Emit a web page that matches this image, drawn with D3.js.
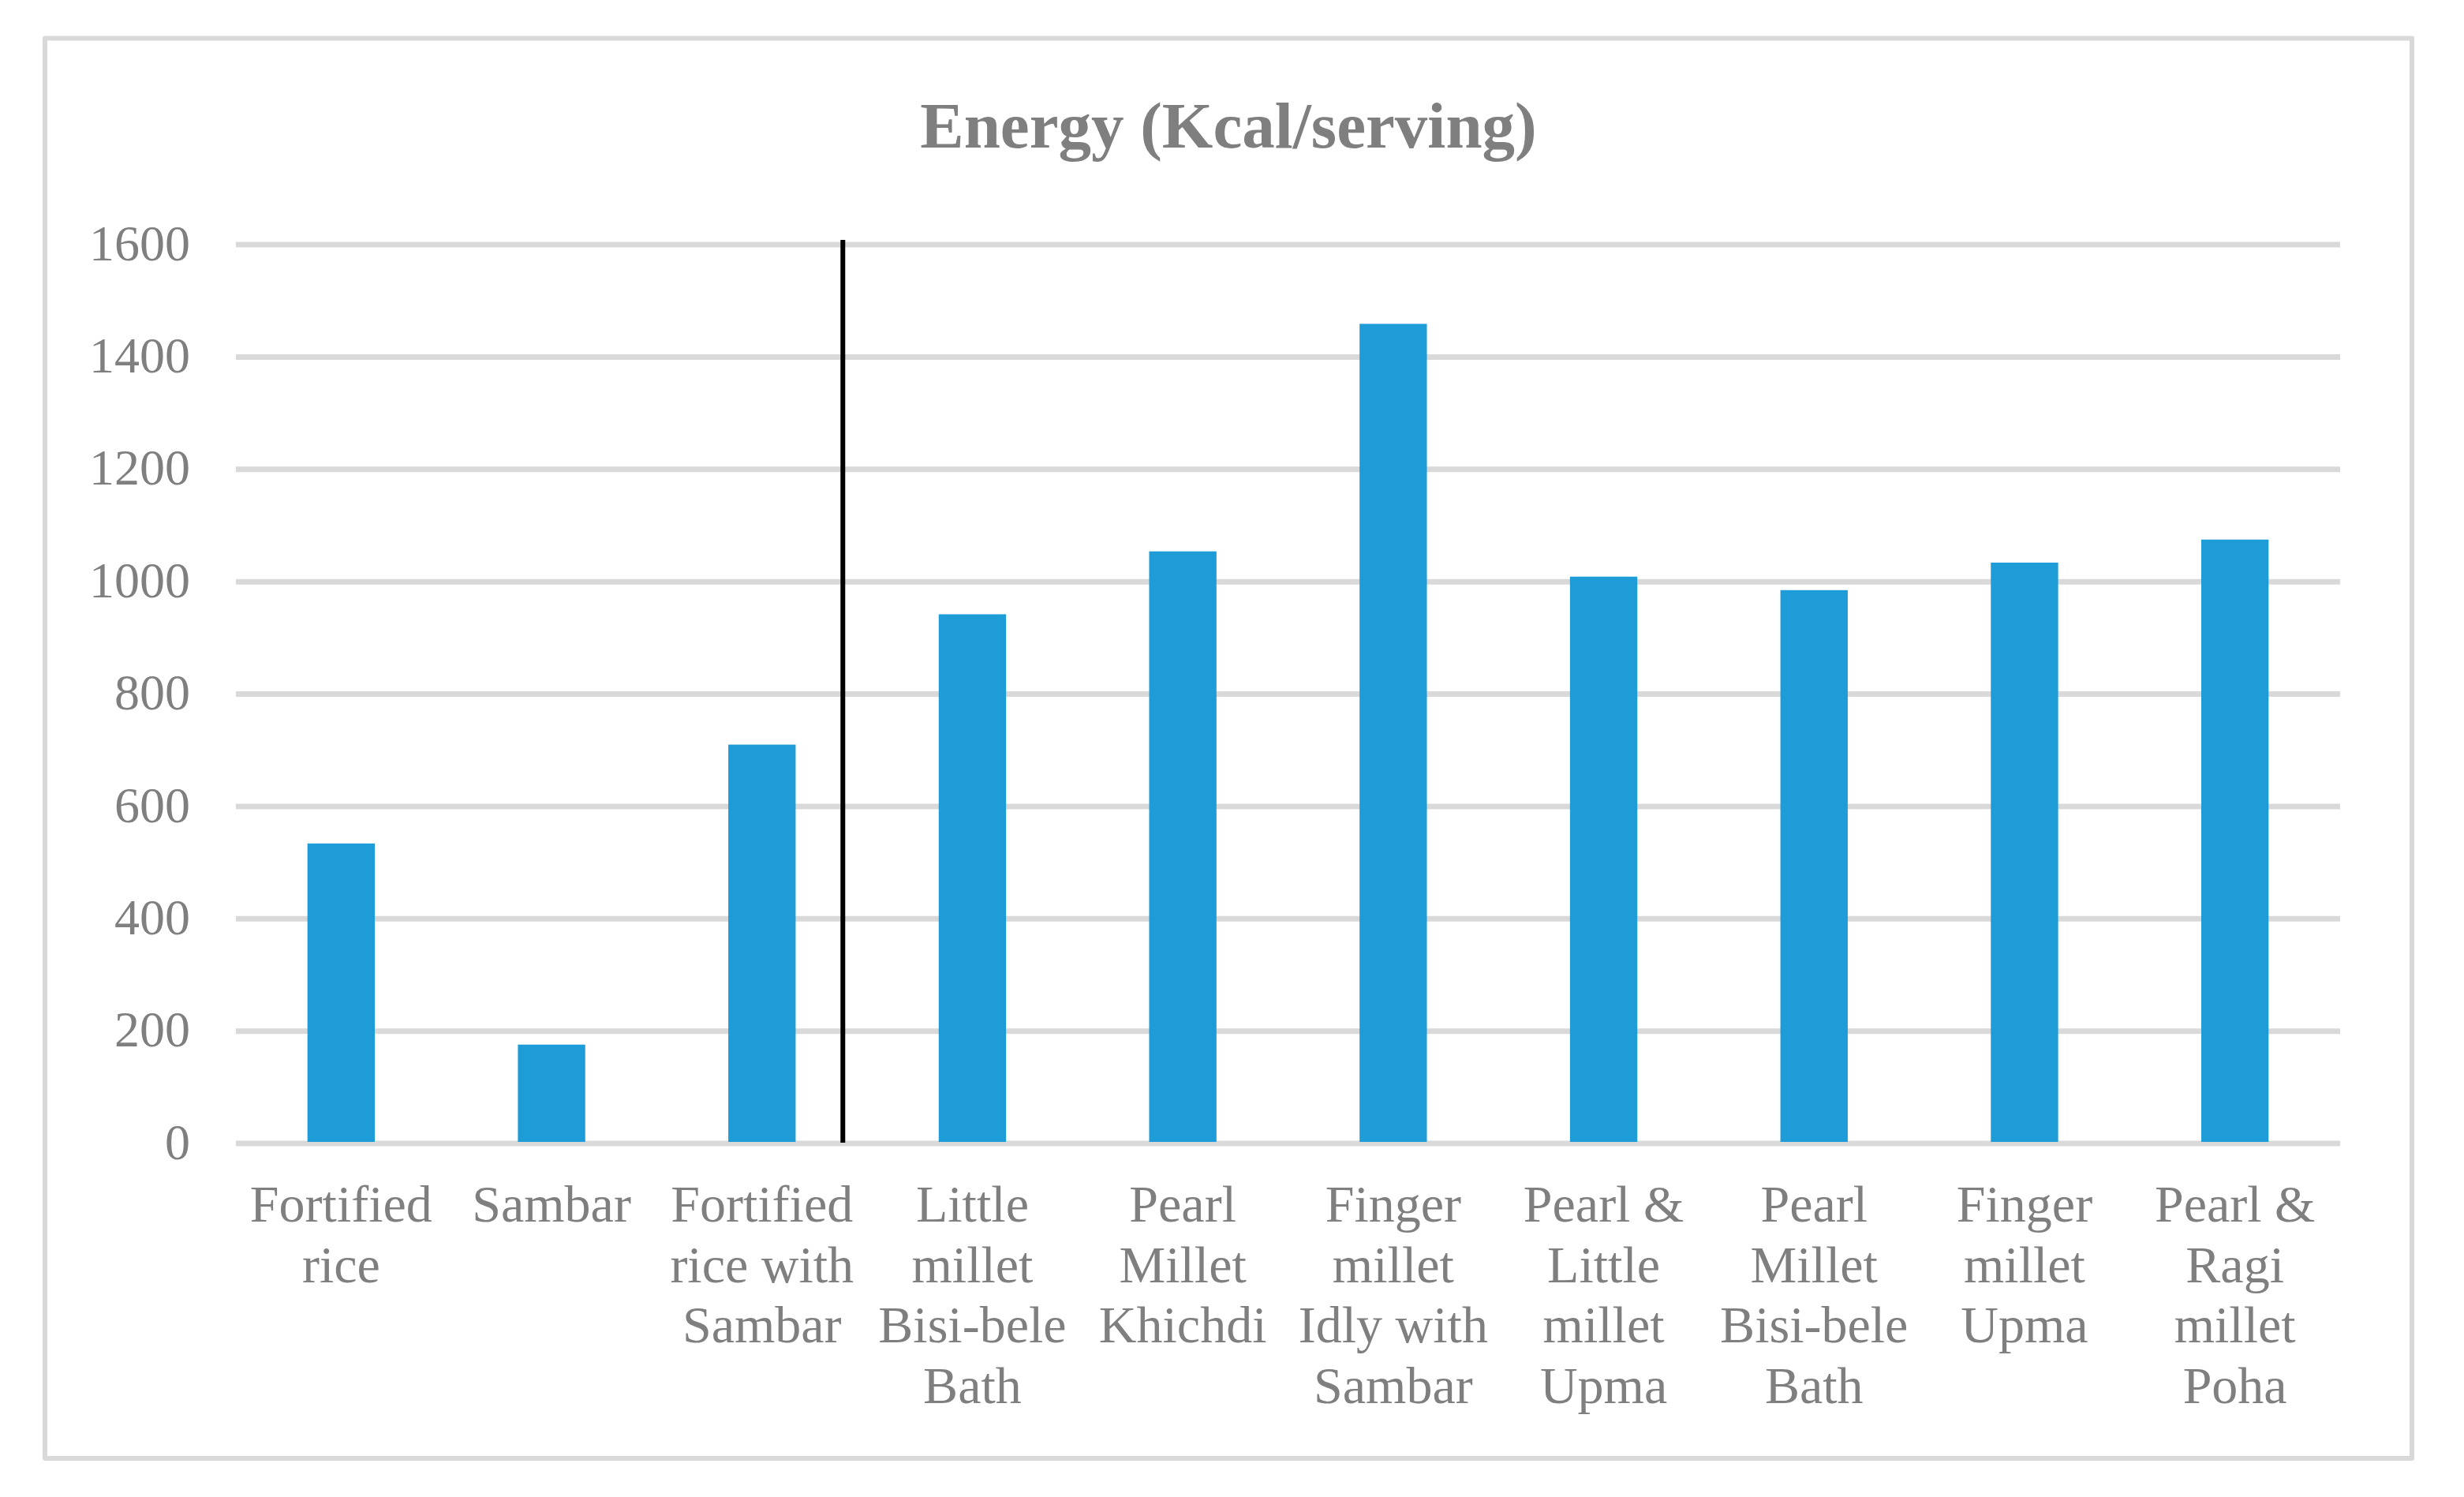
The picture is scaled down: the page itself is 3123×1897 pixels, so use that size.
<!DOCTYPE html>
<html>
<head>
<meta charset="utf-8">
<script src="https://cdn.jsdelivr.net/npm/d3@7"></script>
<style>
  html, body { margin: 0; padding: 0; background: #ffffff; }
  svg { display: block; }
  text { font-family: "Liberation Serif", "Times New Roman", serif; }
</style>
</head>
<body>
<script>
// ---- Data ----
const categories = [
  "Fortified rice",
  "Sambar",
  "Fortified rice with Sambar",
  "Little millet Bisi-bele Bath",
  "Pearl Millet Khichdi",
  "Finger millet Idly with Sambar",
  "Pearl & Little millet Upma",
  "Pearl Millet Bisi-bele Bath",
  "Finger millet Upma",
  "Pearl & Ragi millet Poha"
];
const tickLabelLines = [
  ["Fortified", "rice"],
  ["Sambar"],
  ["Fortified", "rice with", "Sambar"],
  ["Little", "millet", "Bisi-bele", "Bath"],
  ["Pearl", "Millet", "Khichdi"],
  ["Finger", "millet", "Idly with", "Sambar"],
  ["Pearl &", "Little", "millet", "Upma"],
  ["Pearl", "Millet", "Bisi-bele", "Bath"],
  ["Finger", "millet", "Upma"],
  ["Pearl &", "Ragi", "millet", "Poha"]
];
const energy = [534, 176, 710, 942, 1054, 1459, 1009, 985, 1034, 1075];
const yTicks = [0, 200, 400, 600, 800, 1000, 1200, 1400, 1600];
const title = "Energy (Kcal/serving)";
const separatorAfterIndex = 2; // divider between rice dishes and millet dishes

// ---- Layout ----
const W = 3123, H = 1897;
const plot = { left: 299, right: 2966, top: 310, bottom: 1449 };
const grey = "#7f7f7f";
const gridColor = "#d9d9d9";
const barColor = "#1e9cd8";

const svg = d3.select("body").append("svg")
  .attr("width", W).attr("height", H)
  .attr("viewBox", `0 0 ${W} ${H}`);

svg.append("rect").attr("width", W).attr("height", H).attr("fill", "#fff");

// Outer chart border
svg.append("rect")
  .attr("x", 57).attr("y", 48.5)
  .attr("width", 3057 - 57).attr("height", 1848 - 48.5)
  .attr("fill", "none")
  .attr("stroke", gridColor)
  .attr("stroke-width", 6)
  .attr("stroke-linejoin", "round");

// Scales
const x = d3.scaleBand()
  .domain(categories)
  .range([plot.left, plot.right])
  .paddingInner(0.68)
  .paddingOuter(0.34);

const y = d3.scaleLinear()
  .domain([0, 1600])
  .range([plot.bottom, plot.top]);

// Y axis labels
const yAxis = d3.axisLeft(y).tickValues(yTicks).tickSize(0).tickPadding(58).tickFormat(d3.format("d"));
const yG = svg.append("g").attr("transform", `translate(${plot.left},0)`).call(yAxis);
yG.select(".domain").remove();
yG.selectAll("text")
  .attr("fill", grey)
  .style("font-size", "64px")
  .attr("dy", "0.3em");

// Gridlines
svg.append("g").selectAll("line")
  .data(yTicks)
  .join("line")
  .attr("x1", plot.left).attr("x2", plot.right)
  .attr("y1", d => y(d)).attr("y2", d => y(d))
  .attr("stroke", gridColor)
  .attr("stroke-width", 7);

// Bars
svg.append("g").selectAll("rect")
  .data(energy)
  .join("rect")
  .attr("x", (d, i) => x(categories[i]))
  .attr("width", x.bandwidth())
  .attr("y", d => y(d))
  .attr("height", d => y(0) - y(d) - 2)
  .attr("fill", barColor);

// Separator line
const sepX = x(categories[separatorAfterIndex]) + x.bandwidth() + 0.33 * (x.step() - x.bandwidth());
svg.append("line")
  .attr("x1", sepX).attr("x2", sepX)
  .attr("y1", y(1600) - 6).attr("y2", y(0) - 1)
  .attr("stroke", "#000")
  .attr("stroke-width", 6);

// X axis labels
const xAxis = d3.axisBottom(x).tickSize(0).tickFormat("");
const xG = svg.append("g").attr("transform", `translate(0,${plot.bottom})`).call(xAxis);
xG.select(".domain").remove();
xG.selectAll(".tick").each(function(d, i) {
  const t = d3.select(this).append("text")
    .attr("fill", grey)
    .attr("text-anchor", "middle")
    .style("font-size", "66px");
  tickLabelLines[i].forEach((line, j) => {
    t.append("tspan")
      .attr("x", 0)
      .attr("y", 99 + j * 76.5)
      .text(line);
  });
});

// Title
svg.append("text")
  .attr("x", 1557).attr("y", 187)
  .attr("text-anchor", "middle")
  .attr("fill", grey)
  .style("font-size", "83px")
  .style("font-weight", "bold")
  .text(title);
</script>
</body>
</html>
